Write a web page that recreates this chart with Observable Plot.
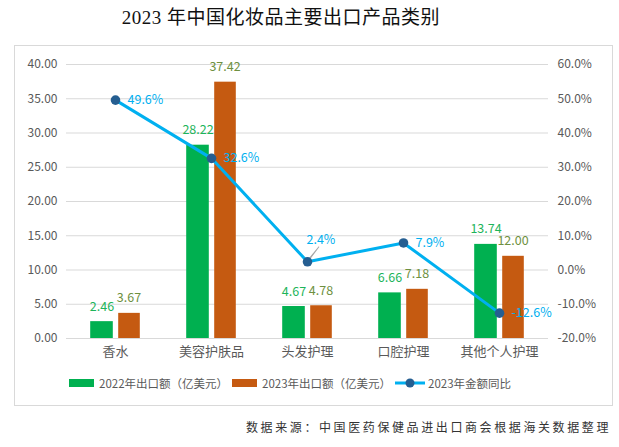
<!DOCTYPE html>
<html><head><meta charset="utf-8">
<script src="https://cdn.jsdelivr.net/npm/d3@7"></script>
<script src="https://cdn.jsdelivr.net/npm/@observablehq/plot@0.6"></script>
<style>
body{margin:0;width:619px;height:447px;position:relative;background:#fff;font-family:"Noto Sans CJK SC","Noto Sans",sans-serif;overflow:hidden}
#title{position:absolute;left:0;top:2px;width:562px;text-align:center;font-family:"Liberation Serif","Noto Sans CJK SC",serif;font-size:19px;color:#111;letter-spacing:0.5px}
#frame{position:absolute;left:14px;top:45px;width:597px;height:359px;border:1px solid #d9d9d9}
#chart{position:absolute;left:14px;top:46px}
#legend{position:absolute;left:69px;top:375px;font-size:11.5px;color:#595959;display:flex;align-items:center;white-space:nowrap}
#legend .sw{display:inline-block;width:25px;height:8px;margin-right:5px}
#legend .it{display:flex;align-items:center;margin-right:4px}
#source{position:absolute;right:8px;top:418px;font-size:12px;color:#333;letter-spacing:2.6px}
</style></head><body>
<div id="title">2023 年中国化妆品主要出口产品类别</div>
<div id="frame"></div>
<div id="chart"></div>
<div id="legend"></div>
<div id="source">数据来源：中国医药保健品进出口商会根据海关数据整理</div>
<script>
const categories = ["香水","美容护肤品","头发护理","口腔护理","其他个人护理"];
const exports2022 = [2.46, 28.22, 4.67, 6.66, 13.74];
const exports2023 = [3.67, 37.42, 4.78, 7.18, 12.00];
const yoy2023 = [49.6, 32.6, 2.4, 7.9, -12.6];
const leftTicks = [0, 5, 10, 15, 20, 25, 30, 35, 40];
const rightTicks = [-20, -10, 0, 10, 20, 30, 40, 50, 60];
const seriesNames = ["2022年出口额（亿美元）", "2023年出口额（亿美元）", "2023年金额同比"];

const C_GREEN = "#00B050", C_ORANGE = "#C55A11", C_LINE = "#00B0F0", C_DOT = "#255E91";
const pctToY = p => (p + 20) / 2; // map right axis (-20..60) onto left axis (0..40)

const rows = categories.map((c, i) => ({cat: c, v22: exports2022[i], v23: exports2023[i], pct: yoy2023[i], py: pctToY(yoy2023[i])}));
const labelRows = rows.filter(d => d.cat !== "头发护理");
const hairRow = rows.filter(d => d.cat === "头发护理");

const chart = Plot.plot({
  width: 598, height: 320,
  marginLeft: 52, marginRight: 64, marginTop: 18, marginBottom: 28,
  x: {type: "band", domain: categories, padding: 0, label: null},
  y: {domain: [0, 40], label: null},
  style: {fontFamily: '"Noto Sans CJK SC","Noto Sans",sans-serif', fontSize: "12px", color: "#595959", background: "transparent"},
  marks: [
    Plot.gridY(leftTicks, {stroke: "#d9d9d9", strokeOpacity: 1}),
    Plot.axisY(leftTicks, {anchor: "left", tickSize: 0, tickPadding: 9, tickFormat: d => d.toFixed(2), label: null, fill: "#595959", fontSize: 12}),
    Plot.axisY(rightTicks.map(pctToY), {anchor: "right", tickSize: 0, tickPadding: 9, tickFormat: d => (d * 2 - 20).toFixed(1) + "%", label: null, fill: "#595959", fontSize: 12}),
    Plot.axisX({tickSize: 0, tickPadding: 8, label: null, fill: "#595959", fontSize: 13}),
    Plot.barY(rows, {x: "cat", y: "v22", fill: C_GREEN, insetLeft: 23.2, insetRight: 50.2}),
    Plot.barY(rows, {x: "cat", y: "v23", fill: C_ORANGE, insetLeft: 51.2, insetRight: 23.2}),
    Plot.text(rows, {x: "cat", y: "v22", text: d => d.v22.toFixed(2), dx: -13.5, dy: -15, fill: "#1DB45A", fontSize: 12.5}),
    Plot.text(rows, {x: "cat", y: "v23", text: d => d.v23.toFixed(2), dx: 13.5, dy: -15, fill: "#6E9040", fontSize: 12.5}),
    Plot.line(rows, {x: "cat", y: "py", stroke: C_LINE, strokeWidth: 3}),
    Plot.vector(hairRow, {x: "cat", y: "py", length: 15, rotate: 38, dx: 2, dy: -3, stroke: "#a6a6a6", strokeWidth: 1, shape: "spike", r: 0.3, anchor: "start"}),
    Plot.dot(rows, {x: "cat", y: "py", r: 4.8, fill: C_DOT, stroke: "none"}),
    Plot.text(labelRows, {x: "cat", y: "py", text: d => d.pct.toFixed(1) + "%", textAnchor: "start", dx: 12, fill: C_LINE, fontSize: 12.5}),
    Plot.text(hairRow, {x: "cat", y: "py", text: d => d.pct.toFixed(1) + "%", textAnchor: "start", dx: -1, dy: -22, fill: C_LINE, fontSize: 12.5})
  ]
});
document.getElementById("chart").appendChild(chart);

// legend
const lg = document.getElementById("legend");
const colors = [C_GREEN, C_ORANGE];
seriesNames.forEach((name, i) => {
  const it = document.createElement("span");
  it.className = "it";
  if (i < 2) {
    it.innerHTML = `<span class="sw" style="background:${colors[i]}"></span>${name}`;
  } else {
    it.innerHTML = `<svg width="30" height="10" style="margin-right:3px"><line x1="0" y1="5" x2="30" y2="5" stroke="${C_LINE}" stroke-width="3"/><circle cx="15" cy="5" r="4.5" fill="${C_DOT}"/></svg>${name}`;
  }
  lg.appendChild(it);
});
</script>
</body></html>
